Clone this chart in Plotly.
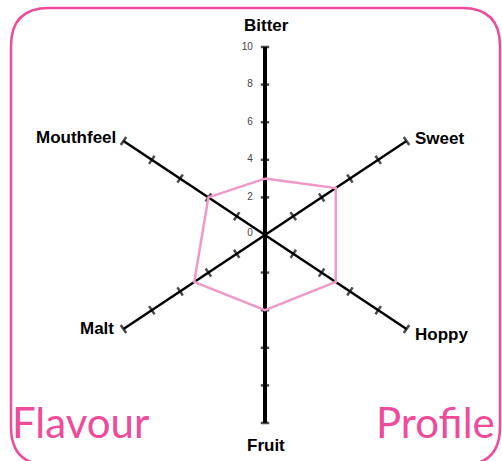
import numpy as np
import plotly.graph_objects as go

# Perfil de sabor (escala 0-10)
categorias = ["Bitter", "Sweet", "Hoppy", "Fruit", "Malt", "Mouthfeel"]
valores = [3, 5, 5, 4, 5, 4]
angulos = [90, 30, -30, -90, 210, 150]
marcas = [2, 4, 6, 8, 10]
etiquetas_r = ["0", "2", "4", "6", "8", "10"]

rosa = "#EE4C9A"
rosa_claro = "#EE9AC8"

ang = np.radians(angulos)
fig = go.Figure()

# Ejes radiales
for i, cat in enumerate(categorias):
    grosor = 4 if angulos[i] in (90, -90) else 2.5
    fig.add_trace(go.Scatter(x=[0, 10 * np.cos(ang[i])], y=[0, 10 * np.sin(ang[i])],
                             mode="lines", line=dict(color="black", width=grosor),
                             hoverinfo="skip", showlegend=False))

# Marcas en cada eje
mx, my, mang, msize = [], [], [], []
for i in range(len(categorias)):
    for r in marcas:
        mx.append(r * np.cos(ang[i]))
        my.append(r * np.sin(ang[i]))
        if angulos[i] in (90, -90):
            mang.append(0)
            msize.append(6)
        elif angulos[i] in (30, 210):
            mang.append(56)
            msize.append(7)
        else:
            mang.append(-56)
            msize.append(7)
fig.add_trace(go.Scatter(x=mx, y=my, mode="markers",
                         marker=dict(symbol="line-ew", size=msize, angle=mang,
                                     line=dict(color="black", width=2.5)),
                         hoverinfo="skip", showlegend=False))

# Poligono del perfil
px_ = [v * np.cos(a) for v, a in zip(valores, ang)]
py_ = [v * np.sin(a) for v, a in zip(valores, ang)]
fig.add_trace(go.Scatter(x=px_ + [px_[0]], y=py_ + [py_[0]], mode="lines",
                         line=dict(color=rosa_claro, width=2.5),
                         hoverinfo="skip", showlegend=False))

# Etiquetas de la escala
fig.add_trace(go.Scatter(x=[-0.75] * len(etiquetas_r), y=[0.1, 2, 4, 6, 8, 10],
                         mode="text", text=etiquetas_r, textposition="middle left",
                         textfont=dict(family="Liberation Sans", size=10, color="#444444"),
                         hoverinfo="skip", showlegend=False))

# Nombres de los ejes
desplaz = {"Bitter": (1, 22, "center"), "Sweet": (6, 3, "left"), "Hoppy": (6, -5, "left"),
           "Fruit": (1, -22, "center"), "Malt": (-7, 1, "right"), "Mouthfeel": (-5, 4, "right")}
for i, cat in enumerate(categorias):
    dx, dy, al = desplaz[cat]
    fig.add_annotation(x=10 * np.cos(ang[i]), y=10 * np.sin(ang[i]), text="<b>%s</b>" % cat,
                       showarrow=False, xshift=dx, yshift=dy, xanchor=al,
                       font=dict(family="Liberation Sans", size=17, color="black"))

fig.add_annotation(x=0.02, y=0.025, xref="paper", yref="paper", text="Flavour",
                   showarrow=False, xanchor="left", yanchor="bottom",
                   font=dict(family="Lato", size=42, color=rosa))
fig.add_annotation(x=0.99, y=0.025, xref="paper", yref="paper", text="Profile",
                   showarrow=False, xanchor="right", yanchor="bottom",
                   font=dict(family="Lato", size=42, color=rosa))

# Marco redondeado
W, H = 502, 461
x0, x1, y0, yb, rad = 11 / W, 500 / W, 1 - 8 / H, -4 / H, 38
rx, ry = rad / W, rad / H
camino = ("M %f,%f L %f,%f Q %f,%f %f,%f L %f,%f Q %f,%f %f,%f L %f,%f Q %f,%f %f,%f "
          "L %f,%f Q %f,%f %f,%f Z") % (
    x0 + rx, y0, x1 - rx, y0, x1, y0, x1, y0 - ry, x1, yb + ry,
    x1, yb, x1 - rx, yb, x0 + rx, yb, x0, yb, x0, yb + ry,
    x0, y0 - ry, x0, y0, x0 + rx, y0)
fig.add_shape(type="path", path=camino, xref="paper", yref="paper",
              line=dict(color=rosa, width=2.5))

fig.update_layout(width=W, height=H, margin=dict(l=0, r=0, t=0, b=0),
                  paper_bgcolor="white", plot_bgcolor="white",
                  xaxis=dict(range=[-265 / 16.34, 237 / 16.34], visible=False, fixedrange=True),
                  yaxis=dict(range=[-(H - 235) / 18.8, 235 / 18.8], visible=False, fixedrange=True))
fig.write_html("out.html", config={"displayModeBar": False},
               post_script="document.body.style.margin='0';")
